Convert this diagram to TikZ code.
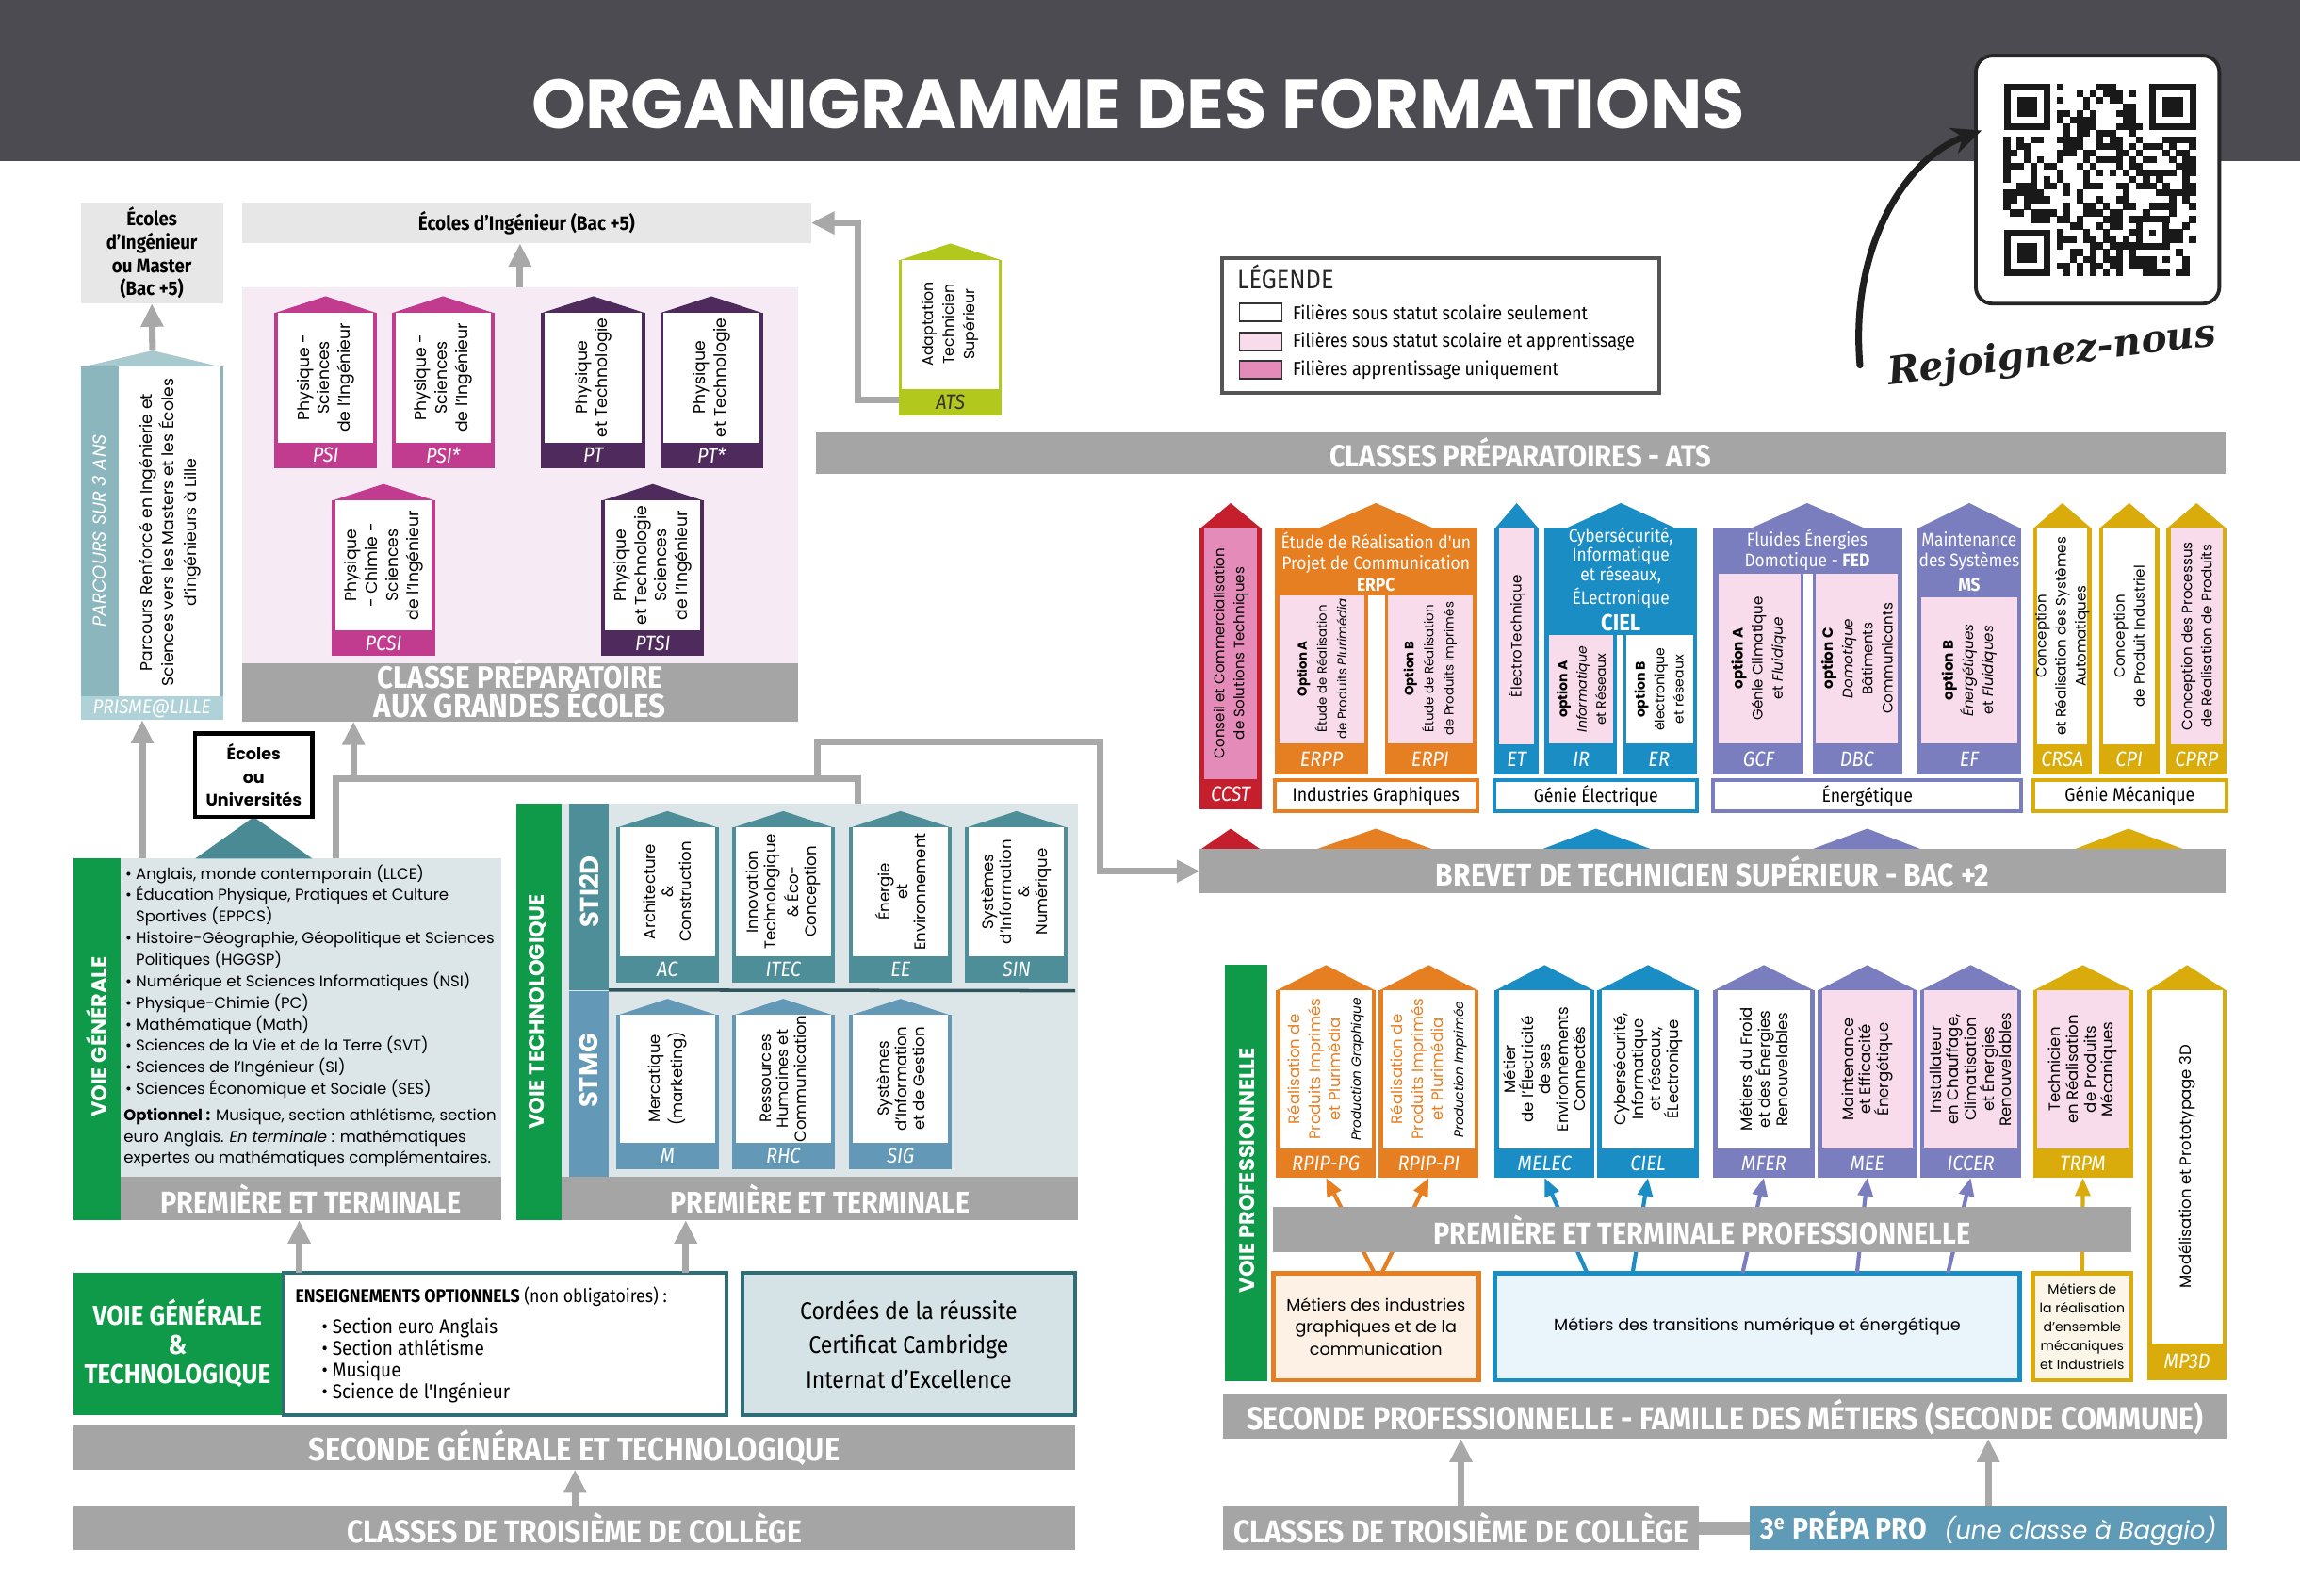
\documentclass[tikz,border=0pt]{standalone}
\usepackage{graphicx}
\usepackage{fontspec}
\setmainfont{Poppins}
\newfontfamily\headf{Fira Sans}[FakeStretch=0.9]
\newfontfamily\serf{DejaVu Serif}
\usetikzlibrary{fit,arrows.meta,calc}

\definecolor{hdrc}{HTML}{4B4B51}
\definecolor{bargray}{HTML}{A5A5A5}
\definecolor{arrgray}{HTML}{A8A8A8}
\definecolor{ggreen}{HTML}{0E9A48}
\definecolor{ecol}{HTML}{E7E7E7}
\definecolor{cpgebgc}{HTML}{F6EAF4}
\definecolor{cmag}{HTML}{C13B8F}
\definecolor{cpur}{HTML}{4F2A5C}
\definecolor{prisA}{HTML}{8CB6BE}
\definecolor{prisR}{HTML}{A8CACF}
\definecolor{prisL}{HTML}{AED2D8}
\definecolor{lime}{HTML}{B2C81C}
\definecolor{legbord}{HTML}{555555}
\definecolor{lpink}{HTML}{F9DCEB}
\definecolor{mpink}{HTML}{E58BBA}
\definecolor{cred}{HTML}{C51F2E}
\definecolor{corange}{HTML}{E67E22}
\definecolor{cblue}{HTML}{1B8DC5}
\definecolor{cpurple}{HTML}{7A7EBF}
\definecolor{cgold}{HTML}{D9AC0C}
\definecolor{tealA}{HTML}{4E8E99}
\definecolor{tealB}{HTML}{6399B6}
\definecolor{techbgc}{HTML}{DCE6E9}
\definecolor{tealdark}{HTML}{2E6E77}
\definecolor{cordbg}{HTML}{D5E3E6}
\definecolor{peach}{HTML}{FDF0E4}
\definecolor{lblue}{HTML}{E9F4FB}
\definecolor{cream}{HTML}{FBF6E7}
\definecolor{prepac}{HTML}{5F9AB6}
\definecolor{tri}{HTML}{4A8A94}

\newlength\vp \setlength\vp{0.443pt}
\newcommand\fs[2]{\fontsize{#1}{#2}\selectfont}
\newcommand\W[2]{\resizebox{#1\vp}{!}{#2}}
\newcommand\Rect[6]{\node[R,fit={(#2,#3) (#4,#5)},#6] (#1) {};}
\def\Trh{11}\def\Tlb{17}\def\Tbw{2.5}
\newcommand\Tower[9]{%
  \pgfmathsetmacro\twa{#4+\Trh}%
  \pgfmathsetmacro\twl{#5-\Tlb}%
  \pgfmathsetmacro\twm{(#2+#3)/2}%
  \pgfmathsetmacro\twc{(\twa+\twl)/2}%
  \pgfmathsetmacro\twk{(\twl+#5)/2}%
  \fill[#6] (#2,\twa+0.5) -- (\twm,#4) -- (#3,\twa+0.5) -- cycle;
  \Rect{#1}{#2}{\twa}{#3}{#5}{fill=#6}
  \Rect{#1-b}{#2+\Tbw}{\twa}{#3-\Tbw}{\twl}{fill=#7}
  \coordinate (#1-p) at (\twm,#4);
  \node[lab] (#1-l) at (\twm,\twk) {#8};
  \node[vtxt] (#1-t) at (\twm,\twc) {#9};
}
\newcommand\GBar[7]{\Rect{#1}{#2}{#3}{#4}{#5}{fill=bargray}
  \node[bartxt] (#1-t) at (#1.center) {\W{#6}{#7}};}

\begin{document}
\begin{tikzpicture}[x=0.015568cm,y=-0.015568cm,
  R/.style={inner sep=0pt,outer sep=0pt},
  lab/.style={inner sep=0pt,text=white,font=\headf\itshape\fs{6.3}{7}},
  vtxt/.style={inner sep=0pt,align=center,rotate=90,font=\fs{4.5}{6.2}},
  gtxt/.style={inner sep=0pt,align=center,text=white,font=\headf\fs{5.5}{6.4}},
  bartxt/.style={inner sep=0pt,align=center,text=white,font=\headf\bfseries\fs{8.5}{9.5}},
  arr/.style={draw=arrgray,line width=2pt,-{Triangle[width=6.5pt,length=7pt]}},
  conn/.style={draw=arrgray,line width=2pt},
  carr/.style={draw=#1,line width=1.2pt,-{Triangle[width=4.5pt,length=5.5pt]}},
  vlab/.style={rotate=90,inner sep=0pt,text=white,font=\bfseries\fs{6.4}{6.6}},
  grp/.style={R,fill=white,draw=#1,line width=1.2pt},
  grptxt/.style={inner sep=0pt,font=\headf\fs{5.6}{6}}]
\useasboundingbox (0,0) rectangle (1568,1088);
\fill[white] (0,0) rectangle (1568,1088);

% ---------------- header
\Rect{header}{0}{0}{1568}{110}{fill=hdrc}
\node[inner sep=0pt,text=white,font=\bfseries\fs{20}{22}] (title) at (776,71) {\W{827}{ORGANIGRAMME DES FORMATIONS}};

% QR
\Rect{qrbox}{1347}{38}{1513}{207}{fill=white,draw=black!85,line width=1.1pt,rounded corners=5pt}
\def\qm{4.52}
\begin{scope}[shift={(1366,57)}]
  \pgfmathsetseed{4242}
  \foreach \i in {0,...,28}{\foreach \j in {0,...,28}{%
    \pgfmathtruncatemacro\qskip{((\i<8)&&(\j<8))||((\i>20)&&(\j<8))||((\i<8)&&(\j>20))}%
    \pgfmathtruncatemacro\qon{rnd<0.47}%
    \ifnum\qskip=0 \ifnum\qon=1 \fill[black!90] (\i*\qm-0.1,\j*\qm-0.1) rectangle ++(\qm+0.2,\qm+0.2);\fi\fi
  }}
  \foreach \fx/\fy in {0/0,22/0,0/22}{%
    \fill[black!90] (\fx*\qm,\fy*\qm) rectangle ++(7*\qm,7*\qm);
    \fill[white] (\fx*\qm+\qm,\fy*\qm+\qm) rectangle ++(5*\qm,5*\qm);
    \fill[black!90] (\fx*\qm+2*\qm,\fy*\qm+2*\qm) rectangle ++(3*\qm,3*\qm);}
  \fill[black!90] (20*\qm,20*\qm) rectangle ++(5*\qm,5*\qm);
  \fill[white] (21*\qm,21*\qm) rectangle ++(3*\qm,3*\qm);
  \fill[black!90] (22*\qm,22*\qm) rectangle ++(\qm,\qm);
\end{scope}
\coordinate (harrA) at (1268,249);
\coordinate (harrB) at (1351,89);
\draw[black!88,line width=2pt,line cap=round,-{Stealth[length=9pt,width=8pt]}] (harrA) .. controls (1261,170) and (1298,108) .. (harrB);
\node[rotate=7,inner sep=0pt,text=black!88,font=\serf\bfseries\itshape\fs{14}{14}] (rej) at (1399,242) {\W{225}{Rejoignez-nous}};

% ---------------- top left
\Rect{ecolesL}{55}{138}{152}{207}{fill=ecol}
\node[align=center,inner sep=0pt,font=\headf\bfseries\fs{5.9}{7}] (ecolesL-t) at (ecolesL.center) {Écoles\\d’Ingénieur\\ou Master\\(Bac +5)};
\Rect{ecolesI}{165}{138}{553}{166}{fill=ecol}
\node[inner sep=0pt,font=\headf\bfseries\fs{6}{6.5}] (ecolesI-t) at (ecolesI.center) {Écoles d’Ingénieur (Bac +5)};

% prisme
\fill[prisR] (55,250.5) -- (104,239) -- (152,250.5) -- cycle;
\coordinate (prisme-p) at (104,239);
\Rect{prisme}{55}{250}{152}{491}{fill=prisA}
\Rect{prisme-b}{81}{250}{150}{475}{fill=white}
\Rect{prisme-lb}{55}{475}{152}{491}{fill=prisL}
\node[lab,font=\headf\itshape\fs{6}{7}] (prisme-l) at (prisme-lb.center) {PRISME@LILLE};
\node[rotate=90,inner sep=0pt,text=white,font=\itshape\fs{5.5}{6}] (prisme-s) at (68,362) {PARCOURS SUR 3 ANS};
\node[vtxt,font=\fs{4.9}{6.6}] (prisme-t) at (116,363) {Parcours Renforcé en Ingénierie et\\Sciences vers les Masters et les Écoles\\d'ingénieurs à Lille};

% CPGE
\Rect{cpgebg}{165}{196}{544}{452}{fill=cpgebgc}
\def\Trh{11}\def\Tlb{17}\def\Tbw{2.5}
\begin{scope}[vtxt/.append style={font=\fs{4.9}{6.2}}]
\Tower{psi}{187}{257}{202}{319}{cmag}{white}{PSI}{Physique -\\Sciences\\de l'Ingénieur}
\Tower{psis}{267}{337}{202}{319}{cmag}{white}{PSI*}{Physique -\\Sciences\\de l'Ingénieur}
\Tower{pt}{369}{440}{202}{319}{cpur}{white}{PT}{Physique\\et Technologie}
\Tower{pts}{450}{520}{202}{319}{cpur}{white}{PT*}{Physique\\et Technologie}
\Tower{pcsi}{226}{297}{330}{447}{cmag}{white}{PCSI}{Physique\\- Chimie -\\Sciences\\de l'Ingénieur}
\Tower{ptsi}{410}{480}{330}{447}{cpur}{white}{PTSI}{Physique\\et Technologie\\Sciences\\de l'Ingénieur}
\end{scope}
\Rect{cpgebar}{165}{452}{544}{492}{fill=bargray}
\node[bartxt,anchor=base] (cpgebar-t1) at (354.5,469) {\W{194}{CLASSE PRÉPARATOIRE}};
\node[bartxt,anchor=base] (cpgebar-t2) at (354.5,489) {\W{199}{AUX GRANDES ÉCOLES}};

% ATS
\def\Trh{11}\def\Tlb{18}\def\Tbw{2}
\Tower{ats}{613}{683}{166}{283}{lime}{white}{\color{black!80}ATS}{Adaptation\\Technicien\\Supérieur}

% legend
\Rect{leg}{833}{176}{1131}{268}{fill=white,draw=legbord,line width=1.1pt}
\node[anchor=base west,inner sep=0pt,font=\headf\fs{8}{8},text=black!85] (leg-h) at (843,197) {LÉGENDE};
\Rect{leg1}{845}{207}{874}{219}{fill=white,draw=black!80,line width=0.5pt}
\Rect{leg2}{845}{227}{874}{239}{fill=lpink,draw=black!80,line width=0.5pt}
\Rect{leg3}{845}{246}{874}{258}{fill=mpink,draw=black!80,line width=0.5pt}
\node[anchor=west,inner sep=0pt,font=\headf\fs{5.7}{6}] (leg1-t) at (881,213) {Filières sous statut scolaire seulement};
\node[anchor=west,inner sep=0pt,font=\headf\fs{5.7}{6}] (leg2-t) at (881,233) {Filières sous statut scolaire et apprentissage};
\node[anchor=west,inner sep=0pt,font=\headf\fs{5.7}{6}] (leg3-t) at (881,252) {Filières apprentissage uniquement};

\GBar{cpats}{556}{294}{1517}{323}{260}{CLASSES PRÉPARATOIRES - ATS}

% ---------------- BTS
\def\Trh{17}\def\Tlb{21}\def\Tbw{3}
\begin{scope}[vtxt/.append style={font=\fs{4.3}{6}}]
\Tower{ccst}{818}{860}{343}{552}{cred}{mpink}{CCST}{Conseil et Commercialisation\\de Solutions Techniques}
\def\Tlb{20.5}
\Tower{et}{1019}{1049}{343}{528}{cblue}{lpink}{ET}{ÉlectroTechnique}
\Tower{crsa}{1386}{1426}{343}{528}{cgold}{white}{CRSA}{Conception\\et Réalisation des Systèmes\\Automatiques}
\Tower{cpi}{1431}{1472}{343}{528}{cgold}{white}{CPI}{Conception\\de Produit Industriel}
\Tower{cprp}{1477}{1518}{343}{528}{cgold}{lpink}{CPRP}{Conception des Processus\\de Réalisation de Produits}

% ERPC
\fill[corange] (898,360.5) -- (938,343) -- (978,360.5) -- cycle;
\Rect{erpc}{869}{360}{1007}{528}{fill=corange}
\node[gtxt] (erpc-t) at (938,383) {Étude de Réalisation d'un\\Projet de Communication\\\textbf{ERPC}};
\Rect{erpcgap}{932.5}{406}{944}{528}{fill=white}
\Rect{erpp-b}{872}{406}{930}{507}{fill=lpink}
\Rect{erpi-b}{946}{406}{1004}{507}{fill=lpink}
\node[lab] (erpp-l) at (901,517.5) {ERPP};
\node[lab] (erpi-l) at (975,517.5) {ERPI};
\node[vtxt,font=\fs{3.8}{6}] (erpp-t) at (901,456) {\textbf{Option A}\\Étude de Réalisation\\de Produits \textit{Plurimédia}};
\node[vtxt,font=\fs{3.8}{6}] (erpi-t) at (975,456) {\textbf{Option B}\\Étude de Réalisation\\de Produits Imprimés};

% CIEL
\fill[cblue] (1067,360.5) -- (1105,343) -- (1143,360.5) -- cycle;
\Rect{ciel}{1053}{360}{1157}{528}{fill=cblue}
\node[gtxt,font=\headf\fs{5.5}{5.9}] (ciel-t) at (1105,395) {Cybersécurité,\\Informatique\\et réseaux,\\ÉLectronique\\[1pt]{\bfseries\fs{7}{7}CIEL}};
\Rect{cielgap}{1102.5}{433}{1106.5}{528}{fill=white}
\Rect{ir-b}{1056}{433}{1100}{507}{fill=lpink}
\Rect{er-b}{1109}{433}{1154}{507}{fill=white}
\node[lab] (ir-l) at (1078,517.5) {IR};
\node[lab] (er-l) at (1131,517.5) {ER};
\node[vtxt,font=\fs{4}{5.8}] (ir-t) at (1078,470) {\textbf{option A}\\\textit{Informatique}\\et Réseaux};
\node[vtxt,font=\fs{4}{5.8}] (er-t) at (1131,470) {\textbf{option B}\\électronique\\et réseaux};

% FED
\fill[cpurple] (1193,360.5) -- (1232,343) -- (1272,360.5) -- cycle;
\Rect{fed}{1168}{360}{1297}{528}{fill=cpurple}
\node[gtxt] (fed-t) at (1232,375) {Fluides Énergies\\Domotique - \textbf{FED}};
\Rect{fedgap}{1229.5}{391}{1236}{528}{fill=white}
\Rect{gcf-b}{1171.5}{391}{1227.5}{507}{fill=lpink}
\Rect{dbc-b}{1238}{391}{1294}{507}{fill=lpink}
\node[lab] (gcf-l) at (1199,517.5) {GCF};
\node[lab] (dbc-l) at (1266,517.5) {DBC};
\node[vtxt] (gcf-t) at (1199,449) {\textbf{option A}\\Génie Climatique\\et \textit{Fluidique}};
\node[vtxt] (dbc-t) at (1266,449) {\textbf{option C}\\\textit{Domotique}\\Bâtiments\\Communicants};

% MS
\fill[cpurple] (1307,360.5) -- (1342.5,343) -- (1378,360.5) -- cycle;
\Rect{ms}{1307}{360}{1378}{528}{fill=cpurple}
\node[gtxt] (ms-t) at (1342.5,383) {Maintenance\\des Systèmes\\[1pt]\textbf{MS}};
\Rect{ef-b}{1310}{407}{1375}{507}{fill=lpink}
\node[lab] (ef-l) at (1342.5,517.5) {EF};
\node[vtxt] (ef-t) at (1342.5,457) {\textbf{option B}\\\textit{Énergétiques}\\et \textit{Fluidiques}};
\end{scope}

\Rect{gIG}{869}{532}{1007}{553}{grp=corange}
\node[grptxt] (gIG-t) at (gIG.center) {Industries Graphiques};
\Rect{gGE}{1019}{532}{1157}{553}{grp=cblue}
\node[grptxt] (gGE-t) at (gGE.center) {Génie Électrique};
\Rect{gEN}{1168}{532}{1378}{553}{grp=cpurple}
\node[grptxt] (gEN-t) at (gEN.center) {Énergétique};
\Rect{gGM}{1386}{532}{1518}{553}{grp=cgold}
\node[grptxt] (gGM-t) at (gGM.center) {Génie Mécanique};

% BTS bar
\fill[cred] (818,579.5) -- (839,565) -- (860,579.5) -- cycle;
\fill[corange] (896,579.5) -- (938,565) -- (978,579.5) -- cycle;
\fill[cblue] (1050,579.5) -- (1088,565) -- (1127,579.5) -- cycle;
\fill[cpurple] (1234,579.5) -- (1273,565) -- (1311,579.5) -- cycle;
\fill[cgold] (1413,579.5) -- (1451,565) -- (1490,579.5) -- cycle;
\GBar{btsbar}{818}{579}{1517}{609}{377}{BREVET DE TECHNICIEN SUPÉRIEUR - BAC +2}

% ---------------- voie générale
\Rect{gen}{50}{585}{342}{832}{fill=ggreen}
\Rect{genbg}{82}{585}{342}{802}{fill=techbgc}
\GBar{genbar}{82}{802}{342}{832}{205}{PREMIÈRE ET TERMINALE}
\node[vlab] (gen-v) at (66,707) {VOIE GÉNÉRALE};
\node[anchor=north west,inner sep=0pt,align=left,font=\fs{4.7}{6.5}] (gen-t) at (85,589) {%
• Anglais, monde contemporain (LLCE)\\
• Éducation Physique, Pratiques et Culture\\
\phantom{• }Sportives (EPPCS)\\
• Histoire-Géographie, Géopolitique et Sciences\\
\phantom{• }Politiques (HGGSP)\\
• Numérique et Sciences Informatiques (NSI)\\
• Physique-Chimie (PC)\\
• Mathématique (Math)\\
• Sciences de la Vie et de la Terre (SVT)\\
• Sciences de l'Ingénieur (SI)\\
• Sciences Économique et Sociale (SES)};
\node[anchor=north west,inner sep=0pt,align=left,font=\fs{4.7}{6.5}] (gen-o) at (84,755) {%
\textbf{Optionnel :} Musique, section athlétisme, section\\
euro Anglais. \textit{En terminale} : mathématiques\\
expertes ou mathématiques complémentaires.};

\fill[tri] (133,585.5) -- (173,557) -- (213,585.5) -- cycle;
\Rect{ecU}{133}{500}{213}{557}{fill=white,draw=black,line width=1.3pt}
\node[align=center,inner sep=0pt,font=\bfseries\fs{5}{7}] (ecU-t) at (ecU.center) {Écoles\\ou\\Universités};

% ---------------- voie technologique
\Rect{tech}{352}{548}{383}{832}{fill=ggreen}
\Rect{techbg}{383}{548}{735}{802}{fill=techbgc}
\Rect{sti}{388}{548}{415}{675}{fill=tealA}
\Rect{stmg}{388}{676}{415}{802}{fill=tealB}
\draw[tealA!60!black,line width=1pt] (sti.south east) -- (733,675.5);
\node[vlab] (tech-v) at (367,690) {VOIE TECHNOLOGIQUE};
\node[vlab,font=\bfseries\fs{7.8}{8}] (sti-v) at (401.5,608) {STI2D};
\node[vlab,font=\bfseries\fs{7.8}{8}] (stmg-v) at (401.5,730) {STMG};
\def\Trh{11}\def\Tlb{18}\def\Tbw{2.5}
\begin{scope}[vtxt/.append style={font=\fs{4.7}{5.4}}]
\Tower{ac}{420}{490}{553}{670}{tealA}{white}{AC}{Architecture\\\&\\Construction}
\Tower{itec}{499}{569}{553}{670}{tealA}{white}{ITEC}{Innovation\\Technologique\\\& Éco-\\Conception}
\Tower{ee}{579}{649}{553}{670}{tealA}{white}{EE}{Énergie\\et\\Environnement}
\Tower{sin}{658}{728}{553}{670}{tealA}{white}{SIN}{Systèmes\\d'Information\\\&\\Numérique}
\Tower{merc}{420}{490}{681}{797}{tealB}{white}{M}{Mercatique\\(marketing)}
\Tower{rhc}{499}{569}{681}{797}{tealB}{white}{RHC}{Ressources\\Humaines et\\Communication}
\Tower{sig}{579}{649}{681}{797}{tealB}{white}{SIG}{Systèmes\\d'Information\\et de Gestion}
\end{scope}
\GBar{techbar}{383}{802}{735}{832}{204}{PREMIÈRE ET TERMINALE}

% connectors upper left
\coordinate (g1) at (97,585);
\coordinate (g2) at (229,585);
\coordinate (j1) at (241,531);
\coordinate (jt) at (557,531);
\coordinate (atsout) at (613,273);
\draw[arr] (g1) -- (g1 |- prisme.south);
\draw[arr] (prisme-p) -- (ecolesL.south);
\draw[arr] (cpgebg.north) -- (cpgebg.north |- ecolesI.south);
\draw[arr] (atsout) -- (585,273) |- (ecolesI.east);
\draw[conn] (g2) -- (229,531) -- (585,531) -- ($(techbg.north west)+(202,0)$);
\draw[arr] (j1) -- (j1 |- cpgebar.south);
\draw[arr] (jt) -- (557,506) -- (750,506) |- (btsbar.west);

% ---------------- bottom left
\Rect{vgt}{50}{868}{193}{965}{fill=ggreen}
\node[align=center,inner sep=0pt,text=white,font=\headf\bfseries\fs{8.2}{8.8}] (vgt-t) at (121,916) {VOIE GÉNÉRALE\\\&\\TECHNOLOGIQUE};
\Rect{opt}{193}{868}{495}{965}{fill=white,draw=tealdark,line width=1.1pt}
\node[anchor=base west,inner sep=0pt,font=\headf\fs{5.6}{6}] (opt-h) at (201,888) {\textbf{ENSEIGNEMENTS OPTIONNELS} (non obligatoires) :};
\node[anchor=north west,inner sep=0pt,align=left,font=\headf\fs{6}{6.6}] (opt-l) at (219,898) {• Section euro Anglais\\• Section athlétisme\\• Musique\\• Science de l'Ingénieur};
\Rect{cord}{506}{868}{733}{965}{fill=cordbg,draw=tealdark,line width=1.1pt}
\node[align=center,inner sep=0pt,font=\headf\fs{7.3}{10.3}] (cord-t) at (cord.center) {Cordées de la réussite\\Certificat Cambridge\\Internat d’Excellence};
\GBar{sec}{50}{972}{733}{1002}{362}{SECONDE GÉNÉRALE ET TECHNOLOGIQUE}
\GBar{c3l}{50}{1027}{733}{1057}{310}{CLASSES DE TROISIÈME DE COLLÈGE}
\coordinate (gt1) at (204,868);
\coordinate (gt2) at (467.5,868);
\coordinate (s3) at (392,1027);
\draw[arr] (gt1) -- (gt1 |- genbar.south);
\draw[arr] (gt2) -- (gt2 |- techbar.south);
\draw[arr] (s3) -- (s3 |- sec.south);

% ---------------- voie professionnelle
\Rect{vpro}{835}{658}{864}{942}{fill=ggreen}
\node[vlab] (vpro-v) at (850,798) {VOIE PROFESSIONNELLE};
\def\Trh{17}\def\Tlb{20}\def\Tbw{3}
\begin{scope}[vtxt/.append style={font=\fs{4.7}{5.3}}]
\Tower{rpg}{870}{938}{658}{803}{corange}{white}{RPIP-PG}{\textcolor{corange}{Réalisation de}\\[0.8pt]\textcolor{corange}{Produits Imprimés}\\[0.8pt]\textcolor{corange}{et Plurimédia}\\[0.8pt]{\itshape\fs{3.9}{5}Production Graphique}}
\Tower{rpi}{940}{1008}{658}{803}{corange}{white}{RPIP-PI}{\textcolor{corange}{Réalisation de}\\[0.8pt]\textcolor{corange}{Produits Imprimés}\\[0.8pt]\textcolor{corange}{et Plurimédia}\\[0.8pt]{\itshape\fs{3.9}{5}Production Imprimée}}
\Tower{melec}{1019}{1087}{658}{803}{cblue}{white}{MELEC}{Métier\\de l'Électricité\\de ses\\Environnements\\Connectés}
\Tower{ciel2}{1089}{1158}{658}{803}{cblue}{white}{CIEL}{Cybersécurité,\\Informatique\\et réseaux,\\ÉLectronique}
\Tower{mfer}{1168}{1237}{658}{803}{cpurple}{white}{MFER}{Métiers du Froid\\et des Énergies\\Renouvelables}
\Tower{mee}{1239}{1307}{658}{803}{cpurple}{lpink}{MEE}{Maintenance\\et Efficacité\\Énergétique}
\Tower{iccer}{1309}{1378}{658}{803}{cpurple}{lpink}{ICCER}{Installateur\\en Chauffage,\\Climatisation\\et Énergies\\Renouvelables}
\Tower{trpm}{1386}{1454}{658}{803}{cgold}{lpink}{TRPM}{Technicien\\en Réalisation\\de Produits\\Mécaniques}
\def\Tlb{25}
\Tower{mp3d}{1464}{1518}{658}{941}{cgold}{white}{MP3D}{Modélisation et Prototypage 3D}
\end{scope}

\Rect{mind}{868}{868}{1008}{941}{fill=peach,draw=corange,line width=1.3pt}
\node[align=center,inner sep=0pt,font=\fs{5}{6.6}] (mind-t) at (mind.center) {Métiers des industries\\graphiques et de la\\communication};
\Rect{mtrans}{1019}{868}{1377}{941}{fill=lblue,draw=cblue,line width=1.3pt}
\node[inner sep=0pt,font=\fs{5}{6}] (mtrans-t) at (mtrans.center) {Métiers des transitions numérique et énergétique};
\Rect{mreal}{1386}{868}{1453}{941}{fill=cream,draw=cgold,line width=1.3pt}
\node[align=center,inner sep=0pt,font=\fs{4}{5.7}] (mreal-t) at (mreal.center) {Métiers de\\la réalisation\\d'ensemble\\mécaniques\\et Industriels};

\draw[carr=corange] ($(mind.north west)+(69,0)$) -- (rpg.south);
\draw[carr=corange] ($(mind.north west)+(74,0)$) -- (rpi.south);
\draw[carr=cblue] ($(mtrans.north west)+(63,0)$) -- (melec.south);
\draw[carr=cblue] ($(mtrans.north west)+(94,0)$) -- (ciel2.south);
\draw[carr=cpurple] ($(mtrans.north west)+(169,0)$) -- (mfer.south);
\draw[carr=cpurple] ($(mtrans.north west)+(247,0)$) -- (mee.south);
\draw[carr=cpurple] ($(mtrans.north west)+(309,0)$) -- (iccer.south);
\draw[carr=cgold] (mreal.north) -- (trpm.south);
\GBar{probar}{868}{823}{1453}{854}{366}{PREMIÈRE ET TERMINALE PROFESSIONNELLE}

\GBar{secpro}{834}{951}{1518}{981}{652}{SECONDE PROFESSIONNELLE - FAMILLE DES MÉTIERS (SECONDE COMMUNE)}
\GBar{c3r}{834}{1027}{1158}{1057}{310}{CLASSES DE TROISIÈME DE COLLÈGE}
\Rect{prepa}{1193}{1027}{1518}{1057}{fill=prepac}
\node[inner sep=0pt,text=white] (prepa-t) at (prepa.center) {\W{311}{{\headf\bfseries\fs{8.5}{9}3\textsuperscript{e} PRÉPA PRO}\enspace{\itshape\fs{7}{8}(une classe à Baggio)}}};
\draw[draw=arrgray,line width=3.8pt] (c3r.east) -- (prepa.west);
\draw[arr] (c3r.north) -- (c3r.north |- secpro.south);
\draw[arr] (prepa.north) -- (prepa.north |- secpro.south);
\end{tikzpicture}
\end{document}
